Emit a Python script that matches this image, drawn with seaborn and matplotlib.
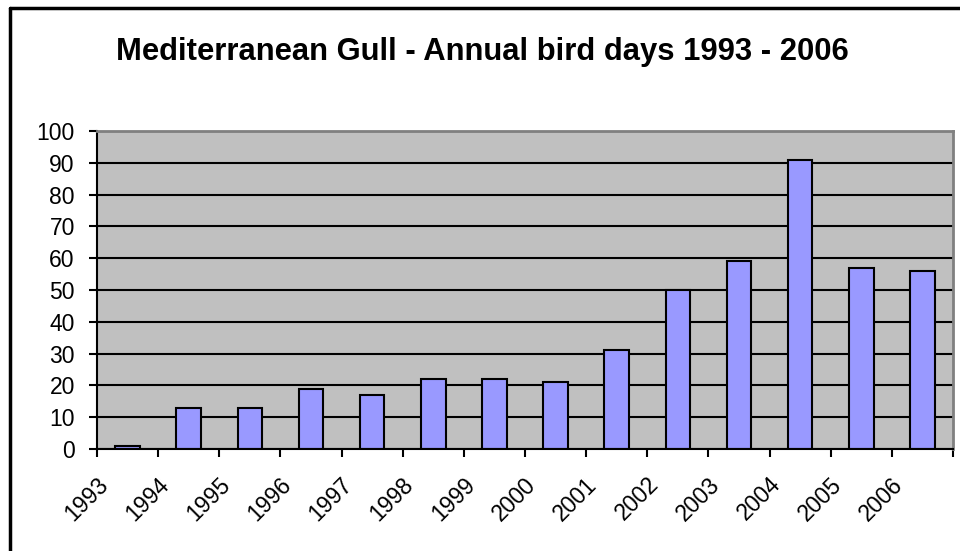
import numpy as np
import matplotlib
matplotlib.use('AGG')
import matplotlib.pyplot as plt
import matplotlib.transforms as mtransforms
from matplotlib.lines import Line2D
import seaborn as sns

# data
years = ['1993', '1994', '1995', '1996', '1997', '1998', '1999',
         '2000', '2001', '2002', '2003', '2004', '2005', '2006']
bird_days = [1, 13, 13, 19, 17, 22, 22, 21, 31, 50, 59, 91, 57, 56]
y_ticks = [0, 10, 20, 30, 40, 50, 60, 70, 80, 90, 100]

sns.set_style('white')
plt.rcParams['font.family'] = ['Liberation Sans', 'DejaVu Sans']
plt.rcParams['text.color'] = 'black'
plt.rcParams['xtick.color'] = 'black'
plt.rcParams['ytick.color'] = 'black'
plt.rcParams['xtick.labelcolor'] = 'black'
plt.rcParams['ytick.labelcolor'] = 'black'

fig = plt.figure(figsize=(9.6, 5.51), dpi=100)
ax = fig.add_axes([97 / 960, 102 / 551, 856 / 960, 318 / 551])
ax.set_facecolor('#C0C0C0')

sns.barplot(x=years, y=bird_days, color='#9999FF', saturation=1, width=0.4,
            edgecolor='black', linewidth=1.5, ax=ax, zorder=3)

ax.set_xlim(-0.5, len(years) - 0.5)
ax.set_ylim(0, 100)
ax.set_yticks(y_ticks)
ax.set_yticklabels([str(t) for t in y_ticks], fontsize=16.5)

# category boundaries carry the ticks, year labels sit at the left edge of each
tick_pos = np.arange(len(years) + 1) - 0.5
ax.set_xticks(tick_pos)
ax.set_xticklabels([])
offset = mtransforms.ScaledTranslation(7.5 / 100, -32 / 100, fig.dpi_scale_trans)
lbl_trans = ax.get_xaxis_transform() + offset
for pos, yr in zip(tick_pos, years):
    ax.text(pos, 0, yr, transform=lbl_trans, fontsize=16.5, rotation=45,
            ha='right', va='center', rotation_mode='anchor', clip_on=False)

ax.set_xlabel('')
ax.set_ylabel('')
ax.tick_params(axis='both', direction='out', length=6, width=1.5, color='black',
               bottom=True, left=True)
ax.tick_params(axis='y', pad=10)

ax.set_axisbelow(True)
ax.yaxis.grid(True, color='black', linewidth=1.5)
ax.xaxis.grid(False)

for side in ['left', 'bottom']:
    ax.spines[side].set_color('black')
    ax.spines[side].set_linewidth(1.5)
for side in ['top', 'right']:
    ax.spines[side].set_color('#808080')
    ax.spines[side].set_linewidth(2)
for sp in ax.spines.values():
    sp.set_zorder(4)

fig.text(482 / 960, 1 - 52 / 551, 'Mediterranean Gull - Annual bird days 1993 - 2006',
         ha='center', va='center', fontsize=22.3, fontweight='bold', color='black')

# outer chart frame (left and top edges visible in the reference)
fy = 1 - 8 / 551
fx = 10 / 960
fig.add_artist(Line2D([fx, fx], [0, fy], color='black', linewidth=2.5,
                      transform=fig.transFigure))
fig.add_artist(Line2D([fx, 1], [fy, fy], color='black', linewidth=2.5,
                      transform=fig.transFigure))

plt.savefig('out.png', dpi=100)
